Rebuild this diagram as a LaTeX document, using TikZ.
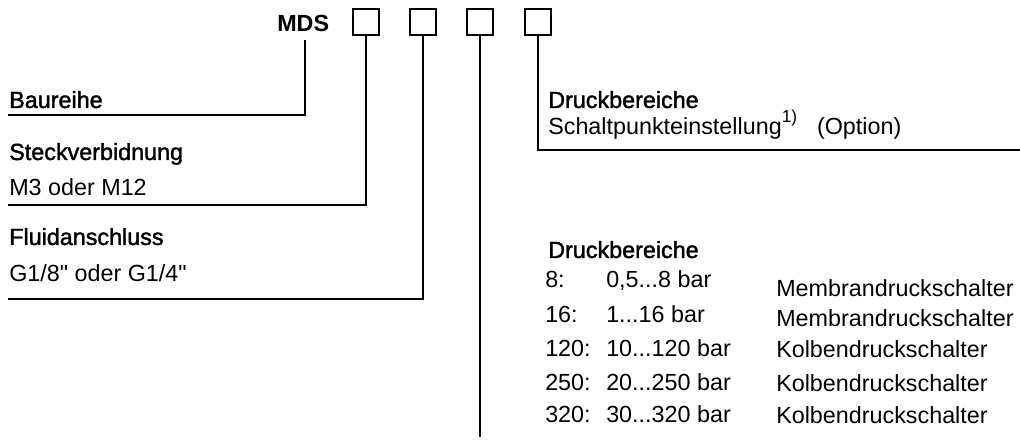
\documentclass[tikz,border=0pt]{standalone}
\usepackage{fontspec}
\setmainfont{Liberation Sans}
\newfontfamily\hfont{Liberation Sans}[FakeBold=1.6]
\newcommand{\straightquote}{\XeTeXglyph\XeTeXcharglyph"22\relax}
\begin{document}
\begin{tikzpicture}[x=0.75pt,y=-0.75pt,
  txt/.style={anchor=base west, inner sep=0, font=\fontsize{17.5pt}{21pt}\selectfont},
  head/.style={anchor=base west, inner sep=0, font=\fontsize{17.5pt}{21pt}\selectfont\hfont},
  codebox/.style={draw, line width=1pt, minimum size=19.5pt, inner sep=0},
  lead/.style={line width=1pt}]
\useasboundingbox (0,0) rectangle (1020,441);

% code
\node[anchor=base west, inner sep=0, font=\fontsize{17.5pt}{21pt}\selectfont\bfseries] (mds) at (277,32) {MDS};
\node[codebox] (b1) at (366,22) {};
\node[codebox] (b2) at (423,22) {};
\node[codebox] (b3) at (480,22) {};
\node[codebox] (b4) at (538,22) {};

% left labels
\node[head] (baureihe) at (9,108) {Baureihe};
\node[head] (steck) at (9,160) {Steckverbidnung};
\node[txt] (m3) at (9,196) {M3 oder M12};
\node[head] (fluid) at (9,245) {Fluidanschluss};
\node[txt] (g18) at (9,282) {G1/8\straightquote{} oder G1/4\straightquote};

% right labels
\node[head] (druck1) at (548,108) {Druckbereiche};
\node[txt] (schalt) at (548,135) {Schaltpunkteinstellung\raisebox{0.52em}{\fontsize{13pt}{15pt}\selectfont 1)}\hspace{0.85em}(Option)};
\node[head] (druck2) at (548,258) {Druckbereiche};

\node[txt] (k1) at (545,288) {8:};
\node[txt] (r1) at (606,288) {0,5...8 bar};
\node[txt] (t1) at (776,297) {Membrandruckschalter};
\node[txt] (k2) at (545,323) {16:};
\node[txt] (r2) at (606,323) {1...16 bar};
\node[txt] (t2) at (776,327) {Membrandruckschalter};
\node[txt] (k3) at (545,357) {120:};
\node[txt] (r3) at (606,357) {10...120 bar};
\node[txt] (t3) at (776,358) {Kolbendruckschalter};
\node[txt] (k4) at (545,390) {250:};
\node[txt] (r4) at (606,390) {20...250 bar};
\node[txt] (t4) at (776,391) {Kolbendruckschalter};
\node[txt] (k5) at (545,422) {320:};
\node[txt] (r5) at (606,422) {30...320 bar};
\node[txt] (t5) at (776,423) {Kolbendruckschalter};

% leader lines
\coordinate (s0) at (305,40);
\coordinate (e0) at (8,115);
\coordinate (e1) at (8,205);
\coordinate (e2) at (8,299);
\coordinate (e3) at (480,437);
\coordinate (e4) at (1020,150);
\draw[lead] (s0) |- (e0);
\draw[lead] (b1.south) |- (e1);
\draw[lead] (b2.south) |- (e2);
\draw[lead] (b3.south) -- (e3);
\draw[lead] (b4.south) |- (e4);
\end{tikzpicture}
\end{document}
